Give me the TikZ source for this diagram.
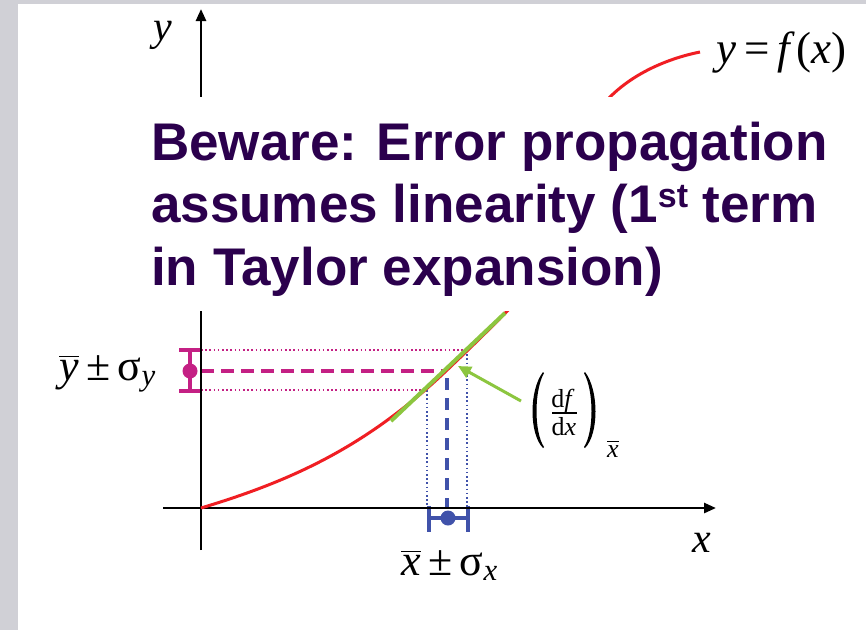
\documentclass[tikz,border=0pt]{standalone}
\usepackage{amsmath}
\usepackage{fontspec}
\setmainfont{Liberation Serif}
\newfontfamily\titlefont{Liberation Sans}
\usetikzlibrary{arrows.meta}
\definecolor{titlec}{RGB}{43,0,77}
\definecolor{pinkc}{RGB}{196,32,132}
\definecolor{bluec}{RGB}{64,82,170}
\definecolor{greenc}{RGB}{140,198,63}
\definecolor{redc}{RGB}{240,30,35}
\definecolor{greyc}{RGB}{208,208,214}
\tikzset{
  axisline/.style={line width=2.6pt, black, -{Triangle[length=12pt,width=10pt]}},
  pinkdot/.style={pinkc, line width=1.6pt, dash pattern=on 1.6pt off 2.6pt},
  pinkdash/.style={pinkc, line width=3.6pt, dash pattern=on 13pt off 7pt},
  bluedot/.style={bluec, line width=1.6pt, dash pattern=on 1.6pt off 2.6pt},
  bluedash/.style={bluec, line width=3.6pt, dash pattern=on 12pt off 8pt},
  curve/.style={redc, line width=3pt},
  tangent/.style={greenc, line width=4pt},
  titletext/.style={font=\titlefont\bfseries\fontsize{53}{62}\selectfont, text=titlec, inner sep=0pt, anchor=base west},
  lbl/.style={font=\fontsize{42}{46}\selectfont, inner sep=0pt, anchor=base west},
  fraclbl/.style={font=\fontsize{26}{28}\selectfont, inner sep=0pt, anchor=base},
}
\begin{document}
\begin{tikzpicture}[x=1pt,y=-1pt]
\useasboundingbox (0,0) rectangle (866,630);
\fill[white] (0,0) rectangle (866,630);
\fill[greyc] (0,0) rectangle (18,630);
\fill[greyc] (0,0) rectangle (866,4);

% coordinates
\coordinate (O) at (201,508);
\coordinate (yTop) at (201,9);
\coordinate (yBot) at (201,550);
\coordinate (xL) at (163,508);
\coordinate (xR) at (716,508);
\coordinate (T) at (446,371);
\coordinate (Q) at (512,306);
\coordinate (P1) at (610,97);
\coordinate (Pend) at (700,52);
\coordinate (yHi) at (201,350);
\coordinate (yLo) at (201,390);
\coordinate (yMid) at (201,371);
\coordinate (Hi) at (467,350);
\coordinate (Lo) at (427,390);
\coordinate (HiB) at (467,508);
\coordinate (LoB) at (427,508);
\coordinate (dT) at (447,378);
\coordinate (dB) at (447,508);
\coordinate (G1) at (391,421);
\coordinate (G2) at (505,313);
\coordinate (AS) at (521,401);
\coordinate (AE) at (458,366);

% guide lines
\draw[pinkdot] (yHi) -- (Hi);
\draw[pinkdot] (yLo) -- (Lo);
\draw[pinkdash] (yMid) -- (T);
\draw[bluedot] (Hi) -- (HiB);
\draw[bluedot] (Lo) -- (LoB);
\draw[bluedash] (dT) -- (dB);

% error bars
\coordinate (pyT) at (190,350);
\coordinate (pyB) at (190,391);
\draw[pinkc, line width=4pt] (pyT) -- (pyB);
\draw[pinkc, line width=4pt] (179,350) -- (201,350);
\draw[pinkc, line width=4pt] (179,391) -- (201,391);
\fill[pinkc] (190,371) circle (7.5pt);

\coordinate (bxL) at (429,518);
\coordinate (bxR) at (468,518);
\draw[bluec, line width=4pt] (bxL) -- (bxR);
\draw[bluec, line width=4pt] (429,506) -- (429,532);
\draw[bluec, line width=4pt] (468,506) -- (468,532);
\fill[bluec] (448,518) circle (7.5pt);

% axes
\draw[axisline] (yBot) -- (yTop);
\draw[axisline] (xL) -- (xR);

% curve
\draw[curve] (O) .. controls (291,481) and (366,447) .. (T)
  .. controls (468,350) and (490,329) .. (Q)
  .. controls (542,274) and (585,122) .. (P1)
  .. controls (635,72) and (670,58) .. (Pend);

% tangent and arrow
\draw[tangent] (G1) -- (G2);
\draw[greenc, line width=3pt, -{Triangle[length=13pt,width=12pt]}] (AS) -- (AE);

% white cover box
\fill[white] (140,96.5) rectangle (845,311);

% title
\node[titletext] (t1) at (151,160) {Beware: Error propagation};
\node[titletext] (t2) at (151,222) {assumes linearity (1\raisebox{15pt}{\fontsize{34}{34}\selectfont st} term};
\node[titletext] (t3) at (151,285) {in Taylor expansion)};

% labels
\node[lbl] (ylab) at (153,40) {\textit{y}};
\node[lbl] (xlab) at (692,552) {\textit{x}};
\node[lbl, font=\fontsize{45}{48}\selectfont] (flab) at (716,63) {\textit{y}\kern8pt=\kern8pt\textit{f}\kern1pt(\textit{x})};
\node[lbl, font=\fontsize{44}{48}\selectfont] (ysig) at (59,380) {$\overline{\textit{y}}$\kern8pt±\kern7ptσ$_{\textit{y}}$};
\node[lbl, font=\fontsize{44}{48}\selectfont] (xsig) at (401,575) {$\overline{\textit{x}}$\kern8pt±\kern7ptσ$_{\textit{x}}$};

% derivative label
\fill[black] (543,372) .. controls (529,390) and (529,434) .. (543,448)
  -- (544,447) .. controls (534,432) and (534,391) .. (544,373) -- cycle;
\fill[black] (585,372) .. controls (599,390) and (599,434) .. (585,448)
  -- (584,447) .. controls (594,432) and (594,391) .. (584,373) -- cycle;
\node[fraclbl] (num) at (563,407) {d\textit{f}};
\coordinate (fl) at (552,413);
\coordinate (fr) at (577,413);
\draw[black, line width=1.3pt] (fl) -- (fr);
\node[fraclbl] (den) at (564,435) {d\textit{x}};
\node[font=\fontsize{26}{28}\selectfont, inner sep=0pt, anchor=base west] (sub) at (607,457) {$\overline{\textit{x}}$};
\end{tikzpicture}
\end{document}
